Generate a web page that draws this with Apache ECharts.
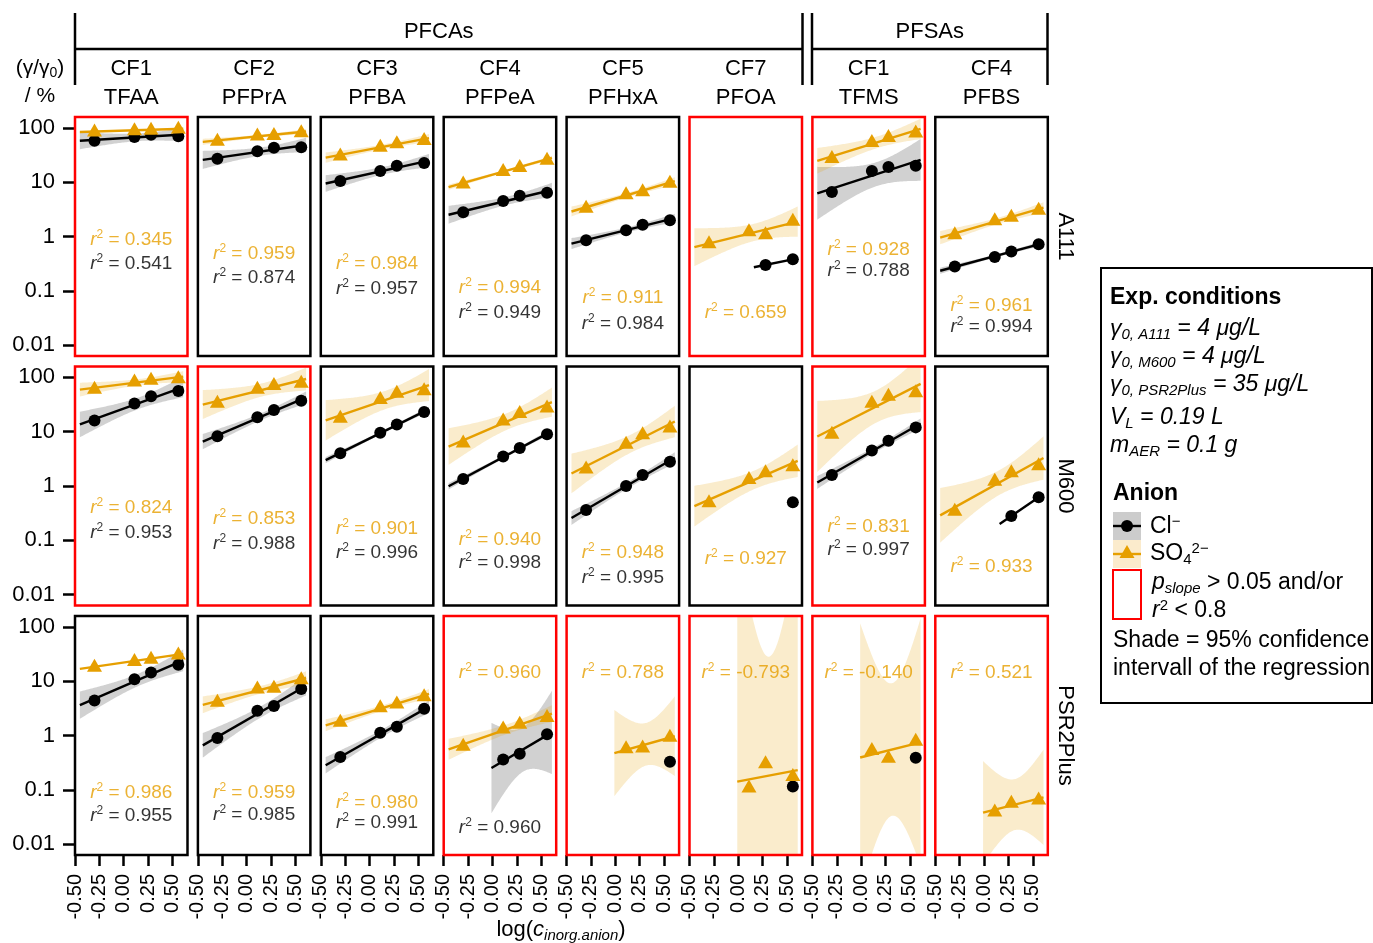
<!DOCTYPE html>
<html>
<head>
<meta charset="utf-8">
<title>PFAS breakthrough vs. inorganic anion</title>
<script src="https://cdn.jsdelivr.net/npm/echarts@6/dist/echarts.min.js"></script>
<style>
  html, body { margin: 0; padding: 0; background: #fff; }
  #main { width: 1373px; height: 943px; }
</style>
</head>
<body>
<div id="main"></div>
<script>
// facets
const classes = ['PFCAs', 'PFSAs'];
const compounds = ['CF1\nTFAA', 'CF2\nPFPrA', 'CF3\nPFBA', 'CF4\nPFPeA', 'CF5\nPFHxA', 'CF7\nPFOA', 'CF1\nTFMS', 'CF4\nPFBS'];
const resins = ['A111', 'M600', 'PSR2Plus'];

// log(c_inorg.anion) levels
const xLevels = [-0.30, 0.11, 0.28, 0.56];

// (γ/γ0) in %, per compound, null = not found
const clA111 = [[58, 68, 75, 70], [27, 37, 43, 44], [10.5, 16, 20, 22.5], [2.8, 4.5, 5.6, 6.4], [0.85, 1.3, 1.65, 2.0], [null, null, 0.30, 0.38], [6.6, 16, 19, 20], [0.28, 0.42, 0.53, 0.72]];
const clM600 = [[16, 33, 45, 56], [8.2, 18.5, 25, 37], [4.0, 9.6, 13.5, 23], [1.35, 3.5, 5.0, 9.0], [0.36, 1.0, 1.6, 2.8], [null, null, null, 0.5], [1.6, 4.5, 6.8, 12], [null, null, 0.28, 0.62]];
const clPSR = [[4.4, 10.8, 14.5, 20], [0.9, 2.85, 3.5, 7.2], [0.4, 1.12, 1.45, 3.1], [null, 0.36, 0.46, 1.05], [null, null, null, 0.33], [null, null, null, 0.115], [null, null, null, 0.39], [null, null, null, null]];
const so4A111 = [[86, 90, 92, 96], [58, 72, 74, 83], [31, 45, 52, 60], [9.5, 16, 19, 26], [3.4, 6, 6.8, 9.8], [0.75, 1.25, 1.1, 1.95], [28, 55, 68, 82], [1.1, 2.0, 2.3, 3.1]];
const so4M600 = [[62, 84, 90, 96], [34, 62, 72, 80], [18, 40, 52, 58], [6.3, 16, 22, 28], [2.1, 6, 9, 12], [0.5, 1.35, 1.8, 2.3], [9.2, 34, 46, 53], [0.35, 1.25, 1.8, 2.4]];
const so4PSR = [[18.5, 23.5, 26, 31], [4.2, 7.3, 7.6, 10.8], [1.8, 3.3, 3.9, 5.3], [0.65, 1.35, 1.65, 2.2], [null, 0.58, 0.6, 0.95], [null, 0.11, 0.31, 0.18], [null, 0.54, 0.39, 0.8], [null, 0.04, 0.058, 0.066]];

// adjusted r² as printed
const r2So4A111 = ['0.345', '0.959', '0.984', '0.994', '0.911', '0.659', '0.928', '0.961'];
const r2ClA111 = ['0.541', '0.874', '0.957', '0.949', '0.984', null, '0.788', '0.994'];
const r2So4M600 = ['0.824', '0.853', '0.901', '0.940', '0.948', '0.927', '0.831', '0.933'];
const r2ClM600 = ['0.953', '0.988', '0.996', '0.998', '0.995', null, '0.997', null];
const r2So4PSR = ['0.986', '0.959', '0.980', '0.960', '0.788', '-0.793', '-0.140', '0.521'];
const r2ClPSR = ['0.955', '0.985', '0.991', '0.960', null, null, null, null];

// p_slope > 0.05 and/or r² < 0.8
const flagA111 = [1, 0, 0, 0, 0, 1, 1, 0];
const flagM600 = [1, 1, 0, 0, 0, 0, 1, 0];
const flagPSR = [0, 0, 0, 1, 1, 1, 1, 1];

const yTicks = [-2, -1, 0, 1, 2];
const xTicks = [-0.5, -0.25, 0, 0.25, 0.5];

const clRows = [clA111, clM600, clPSR];
const so4Rows = [so4A111, so4M600, so4PSR];
const r2So4Rows = [r2So4A111, r2So4M600, r2So4PSR];
const r2ClRows = [r2ClA111, r2ClM600, r2ClPSR];
const flagRows = [flagA111, flagM600, flagPSR];

// layout
const FONT = '"Liberation Sans", Arial, sans-serif';
const ORANGE = '#E69F00';
const ORANGE_FILL = 'rgba(230,159,0,0.2)';
const GREY_FILL = 'rgba(153,153,153,0.45)';
const PANEL_LEFT = 75, PANEL_STEP = 122.9, PANEL_W = 112.5;
const ROW_TOP = [117, 366.5, 616], PANEL_H = 239;
const X_MIN = -0.5, X_MAX = 0.654, Y_MIN = -2.2, Y_MAX = 2.2;
const DECADE = PANEL_H / (Y_MAX - Y_MIN);
// r² label offsets below the 100 % line, px
const labOffSo4 = [[111.5, 125.5, 135.5, 159.5, 169.5, 184.5, 121.5, 177.5], [130.7, 141.7, 151.7, 162.7, 175.7, 181.7, 149.7, 189.7], [166.3, 166.3, 176.3, 46.3, 46.3, 46.3, 46.3, 46.3]];
const labOffCl = [[135.5, 149.5, 160.5, 184.5, 195.5, null, 142.5, 198.5], [155.7, 166.7, 175.7, 185.7, 200.7, null, 172.7, null], [189.3, 188.3, 196.3, 201.3, null, null, null, null]];

function lmFit(pts) {
  const n = pts.length;
  const xbar = pts.reduce((s, p) => s + p[0], 0) / n;
  const ybar = pts.reduce((s, p) => s + p[1], 0) / n;
  let sxx = 0, sxy = 0;
  pts.forEach(p => { sxx += (p[0] - xbar) ** 2; sxy += (p[0] - xbar) * (p[1] - ybar); });
  const b = sxy / sxx, a = ybar - b * xbar;
  let sse = 0;
  pts.forEach(p => { sse += (p[1] - a - b * p[0]) ** 2; });
  const s = n > 2 ? Math.sqrt(sse / (n - 2)) : 0;
  const t = n === 3 ? 12.706 : 4.303;
  return { n, a, b, xbar, sxx, s, t,
    x0: pts[0][0] - (n === 4 ? 0.15 : 0.12), x1: pts[n - 1][0] + 0.05 };
}

const grids = [], xAxes = [], yAxes = [];
const bandSeries = [], lineSeries = [], pointSeries = [], labelSeries = [];
const graphics = [];

function r2Label(val, color) {
  return {
    show: true, position: 'inside',
    formatter: '{r|r}{s|2}{n| = ' + val + '}',
    rich: {
      r: { fontFamily: FONT, fontSize: 19, fontStyle: 'italic', color: color, lineHeight: 22 },
      s: { fontFamily: FONT, fontSize: 12, color: color, verticalAlign: 'top', lineHeight: 14 },
      n: { fontFamily: FONT, fontSize: 19, color: color, lineHeight: 22 }
    }
  };
}

function addGroup(g, values, isCl) {
  const pts = [];
  values.forEach((v, i) => { if (v !== null) pts.push([xLevels[i], Math.log10(v)]); });
  if (!pts.length) return;
  const color = isCl ? '#000' : ORANGE;
  if (pts.length >= 2) {
    const f = lmFit(pts);
    if (f.n >= 3) {
      bandSeries.push({
        type: 'custom', xAxisIndex: g, yAxisIndex: g, silent: true, clip: true,
        data: [[f.x0, f.x1]],
        renderItem: (params, api) => {
          const cs = params.coordSys;
          const up = [], lo = [];
          const steps = 80;
          for (let k = 0; k <= steps; k++) {
            const x = f.x0 + (f.x1 - f.x0) * k / steps;
            const yh = f.a + f.b * x;
            const se = f.s * Math.sqrt(1 / f.n + (x - f.xbar) ** 2 / f.sxx);
            up.push(api.coord([x, yh + f.t * se]));
            lo.push(api.coord([x, yh - f.t * se]));
          }
          const poly = up.concat(lo.reverse()).map(p =>
            [p[0], Math.min(Math.max(p[1], cs.y), cs.y + cs.height)]);
          return { type: 'polygon', shape: { points: poly }, style: { fill: isCl ? GREY_FILL : ORANGE_FILL } };
        }
      });
    }
    lineSeries.push({
      type: 'line', xAxisIndex: g, yAxisIndex: g, silent: true, symbol: 'none',
      data: [[f.x0, f.a + f.b * f.x0], [f.x1, f.a + f.b * f.x1]],
      lineStyle: { color: color, width: 2.4 }
    });
  }
  pointSeries.push({
    type: 'scatter', xAxisIndex: g, yAxisIndex: g, silent: true,
    symbol: isCl ? 'circle' : 'triangle',
    symbolSize: isCl ? 12 : [15, 13],
    symbolOffset: isCl ? [0, 0] : [0, -1.5],
    itemStyle: { color: color, opacity: 1 },
    data: pts
  });
}

resins.forEach((resin, r) => {
  compounds.forEach((cmp, c) => {
    const g = r * compounds.length + c;
    const left = PANEL_LEFT + c * PANEL_STEP;
    const top = ROW_TOP[r];
    grids.push({ left: left, top: top, width: PANEL_W, height: PANEL_H, show: false });
    xAxes.push({
      type: 'value', gridIndex: g, min: X_MIN, max: X_MAX, position: 'bottom',
      axisLine: { show: false, onZero: false }, splitLine: { show: false },
      axisTick: { show: r === 2, customValues: xTicks, length: 11, lineStyle: { color: '#000', width: 2.5 } },
      axisLabel: { show: r === 2, customValues: xTicks, rotate: 90, margin: 19, color: '#000',
        fontFamily: FONT, fontSize: 20, formatter: v => v.toFixed(2) }
    });
    yAxes.push({
      type: 'value', gridIndex: g, min: Y_MIN, max: Y_MAX, position: 'left',
      axisLine: { show: false, onZero: false }, splitLine: { show: false },
      axisTick: { show: c === 0, customValues: yTicks, length: 12, lineStyle: { color: '#000', width: 2.5 } },
      axisLabel: { show: c === 0, customValues: yTicks, margin: 20, color: '#000',
        fontFamily: FONT, fontSize: 22, formatter: v => String(Math.pow(10, v)) }
    });
    addGroup(g, clRows[r][c], true);
    addGroup(g, so4Rows[r][c], false);

    const xc = (X_MIN + X_MAX) / 2;
    if (r2So4Rows[r][c] !== null) {
      labelSeries.push({ type: 'scatter', xAxisIndex: g, yAxisIndex: g, silent: true, symbolSize: 1,
        itemStyle: { color: 'transparent' }, label: r2Label(r2So4Rows[r][c], ORANGE),
        data: [[xc, 2 - labOffSo4[r][c] / DECADE]] });
    }
    if (r2ClRows[r][c] !== null) {
      labelSeries.push({ type: 'scatter', xAxisIndex: g, yAxisIndex: g, silent: true, symbolSize: 1,
        itemStyle: { color: 'transparent' }, label: r2Label(r2ClRows[r][c], '#000'),
        data: [[xc, 2 - labOffCl[r][c] / DECADE]] });
    }

    // panel border
    graphics.push({ type: 'rect', z: 100, silent: true,
      shape: { x: left, y: top, width: PANEL_W, height: PANEL_H },
      style: { fill: 'none', stroke: flagRows[r][c] ? '#FF0000' : '#000', lineWidth: 2.5 } });

    // column strip
    if (r === 0) {
      const parts = cmp.split('\n');
      graphics.push({ type: 'text', z: 100, style: { text: parts[0], x: left + PANEL_W / 2, y: 69,
        align: 'center', verticalAlign: 'middle', fontFamily: FONT, fontSize: 22, fill: '#000' } });
      graphics.push({ type: 'text', z: 100, style: { text: parts[1], x: left + PANEL_W / 2, y: 98,
        align: 'center', verticalAlign: 'middle', fontFamily: FONT, fontSize: 22, fill: '#000' } });
    }
  });
  // row strip
  graphics.push({ type: 'text', z: 100, x: 1065, y: ROW_TOP[r] + PANEL_H / 2, rotation: -Math.PI / 2,
    style: { text: resin, x: 0, y: 0, align: 'center', verticalAlign: 'middle', fontFamily: FONT, fontSize: 22, fill: '#000' } });
});

// class strips
const classSpans = [[75, 802.5], [812, 1047.5]];
classes.forEach((cl, i) => {
  const [x0, x1] = classSpans[i];
  graphics.push({ type: 'text', z: 100, style: { text: cl, x: (x0 + x1) / 2, y: 32, align: 'center',
    verticalAlign: 'middle', fontFamily: FONT, fontSize: 22, fill: '#000' } });
  graphics.push({ type: 'line', z: 100, shape: { x1: x0, y1: 49, x2: x1, y2: 49 }, style: { stroke: '#000', lineWidth: 2.5 } });
  graphics.push({ type: 'line', z: 100, shape: { x1: x0, y1: 13, x2: x0, y2: 85 }, style: { stroke: '#000', lineWidth: 2.5 } });
  graphics.push({ type: 'line', z: 100, shape: { x1: x1, y1: 13, x2: x1, y2: 85 }, style: { stroke: '#000', lineWidth: 2.5 } });
});

function richText(x, y, text, rich, align) {
  return { type: 'text', z: 100, style: { text: text, rich: rich, x: x, y: y, align: align || 'left',
    verticalAlign: 'middle', fontFamily: FONT, fontSize: 22, fill: '#000' } };
}

// y title
graphics.push(richText(40, 68, '{a|(γ/γ}{b|0}{a|)}', {
  a: { fontFamily: FONT, fontSize: 21, fill: '#000', lineHeight: 24 },
  b: { fontFamily: FONT, fontSize: 14, fill: '#000', verticalAlign: 'bottom', lineHeight: 16 }
}, 'center'));
graphics.push(richText(40, 96, '/ %', null, 'center'));
graphics[graphics.length - 1].style.fontSize = 21;

// x title
graphics.push(richText(561, 930, '{a|log(}{c|c}{s|inorg.anion}{a|)}', {
  a: { fontFamily: FONT, fontSize: 22, fill: '#000', lineHeight: 26 },
  c: { fontFamily: FONT, fontSize: 22, fill: '#000', fontStyle: 'italic', lineHeight: 26 },
  s: { fontFamily: FONT, fontSize: 15, fill: '#000', fontStyle: 'italic', verticalAlign: 'bottom', lineHeight: 14 }
}, 'center'));

// legend box
const LG = 23;
const it = { fontFamily: FONT, fontSize: LG, fontStyle: 'italic', fill: '#000', lineHeight: 26 };
const itSub = { fontFamily: FONT, fontSize: 15, fontStyle: 'italic', fill: '#000', verticalAlign: 'bottom', lineHeight: 14 };
const nm = { fontFamily: FONT, fontSize: LG, fill: '#000', lineHeight: 26 };
const sup = { fontFamily: FONT, fontSize: 15, fill: '#000', verticalAlign: 'top', lineHeight: 14 };
const sub = { fontFamily: FONT, fontSize: 15, fill: '#000', verticalAlign: 'bottom', lineHeight: 14 };
const bd = { fontFamily: FONT, fontSize: LG, fontWeight: 'bold', fill: '#000', lineHeight: 26 };
const lgRich = { it, itSub, nm, sup, sub, bd };

graphics.push({ type: 'rect', z: 100, shape: { x: 1101, y: 268, width: 271, height: 435 },
  style: { fill: '#fff', stroke: '#000', lineWidth: 2 } });
graphics.push(richText(1110, 298, '{bd|Exp. conditions}', lgRich));
graphics.push(richText(1110, 329, '{it|γ}{itSub|0, A111}{it| = 4 μg/L}', lgRich));
graphics.push(richText(1110, 357, '{it|γ}{itSub|0, M600}{it| = 4 μg/L}', lgRich));
graphics.push(richText(1110, 385, '{it|γ}{itSub|0, PSR2Plus}{it| = 35 μg/L}', lgRich));
graphics.push(richText(1110, 418, '{it|V}{itSub|L}{it| = 0.19 L}', lgRich));
graphics.push(richText(1110, 446, '{it|m}{itSub|AER}{it| = 0.1 g}', lgRich));
graphics.push(richText(1113, 494, '{bd|Anion}', lgRich));
// keys
graphics.push({ type: 'rect', z: 100, shape: { x: 1113, y: 512, width: 28, height: 28 }, style: { fill: '#CCCCCC' } });
graphics.push({ type: 'line', z: 101, shape: { x1: 1113, y1: 526, x2: 1141, y2: 526 }, style: { stroke: '#000', lineWidth: 2.4 } });
graphics.push({ type: 'circle', z: 102, shape: { cx: 1127, cy: 526, r: 6 }, style: { fill: '#000' } });
graphics.push({ type: 'rect', z: 100, shape: { x: 1113, y: 540, width: 28, height: 28 }, style: { fill: '#FBEBCC' } });
graphics.push({ type: 'line', z: 101, shape: { x1: 1113, y1: 554, x2: 1141, y2: 554 }, style: { stroke: ORANGE, lineWidth: 2.4 } });
graphics.push({ type: 'polygon', z: 102, shape: { points: [[1127, 545], [1134.5, 558], [1119.5, 558]] }, style: { fill: ORANGE } });
graphics.push({ type: 'rect', z: 100, shape: { x: 1113, y: 570, width: 28, height: 49 }, style: { fill: '#fff', stroke: '#FF0000', lineWidth: 2 } });
graphics.push(richText(1150, 527, '{nm|Cl}{sup|−}', lgRich));
graphics.push(richText(1150, 554, '{nm|SO}{sub|4}{sup|2−}', lgRich));
graphics.push(richText(1152, 583, '{it|p}{itSub|slope}{nm| > 0.05 and/or}', lgRich));
graphics.push(richText(1152, 611, '{it|r}{sup|2}{nm| < 0.8}', lgRich));
graphics.push(richText(1113, 641, '{nm|Shade = 95% confidence}', lgRich));
graphics.push(richText(1113, 669, '{nm|intervall of the regression}', lgRich));

const chart = echarts.init(document.getElementById('main'));
chart.setOption({
  animation: false,
  backgroundColor: '#fff',
  grid: grids,
  xAxis: xAxes,
  yAxis: yAxes,
  series: bandSeries.concat(lineSeries, pointSeries, labelSeries),
  graphic: graphics
});
</script>
</body>
</html>
